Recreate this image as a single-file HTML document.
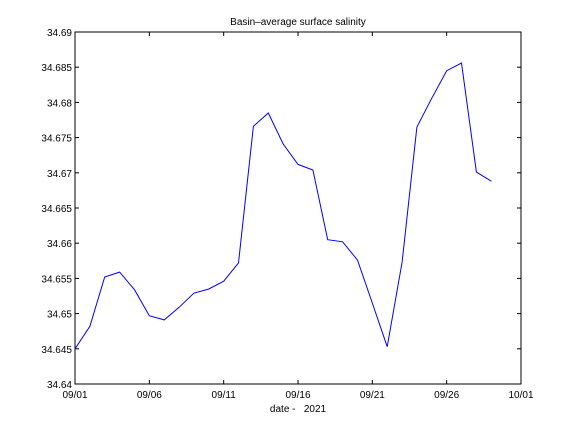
<!DOCTYPE html>
<html><head><meta charset="utf-8"><style>
body{margin:0;background:#fff;}
svg{display:block;font-family:"Liberation Sans",sans-serif;}
</style></head><body>
<svg id="chart" width="576" height="432" viewBox="0 0 576 432">
<rect x="0" y="0" width="576" height="432" fill="#fff"/>
<text x="298" y="25" font-size="10" text-anchor="middle">Basin–average surface salinity</text>
<rect x="75" y="32" width="446" height="352" fill="none" stroke="#000" stroke-width="1"/>
<g id="axes"></g>
<text x="298" y="412" font-size="10" text-anchor="middle" xml:space="preserve">date -   2021</text>
</svg>
<script>
const days=[0,1,2,3,4,5,6,7,8,9,10,11,12,13,14,15,16,17,18,19,20,21,22,23,24,25,26,27,28];
const salinity=[34.645,34.6482,34.6552,34.6559,34.6534,34.6497,34.6491,34.6509,34.6529,34.6535,34.6546,34.6572,34.6766,34.6785,34.6741,34.6712,34.6704,34.6605,34.6602,34.6576,34.6515,34.6453,34.6573,34.6765,34.6806,34.6845,34.6856,34.6701,34.6688];
const xTickVals=[0,5,10,15,20,25,30];
const xTickLabels=["09/01","09/06","09/11","09/16","09/21","09/26","10/01"];
const yTickVals=[34.64,34.645,34.65,34.655,34.66,34.665,34.67,34.675,34.68,34.685,34.69];
const yTickLabels=["34.64","34.645","34.65","34.655","34.66","34.665","34.67","34.675","34.68","34.685","34.69"];
const L=75,R=521,T=32,B=384,xmin=0,xmax=30,ymin=34.64,ymax=34.69;
const NS="http://www.w3.org/2000/svg";
const sx=v=>L+(v-xmin)/(xmax-xmin)*(R-L);
const sy=v=>B-(v-ymin)/(ymax-ymin)*(B-T);
const g=document.getElementById('axes');
function mk(t,a){const e=document.createElementNS(NS,t);for(const k in a)e.setAttribute(k,a[k]);g.appendChild(e);return e;}
xTickVals.forEach((v,i)=>{
 const x=sx(v);
 const t1=mk('line',{x1:x,x2:x,y1:B,y2:B-4,stroke:'#000'});
 
 
 const t2=mk('line',{x1:x,x2:x,y1:T,y2:T+4,stroke:'#000'});
 
 
 const tx=mk('text',{x:x,y:B+14,'font-size':10,'text-anchor':'middle'});
 tx.textContent=xTickLabels[i];
 
 
});
yTickVals.forEach((v,i)=>{
 const y=sy(v);
 const t1=mk('line',{x1:L,x2:L+4,y1:y,y2:y,stroke:'#000'});
 
 
 const t2=mk('line',{x1:R,x2:R-4,y1:y,y2:y,stroke:'#000'});
 
 
 const tx=mk('text',{x:L-3,y:y+4,'font-size':10,'text-anchor':'end'});
 tx.textContent=yTickLabels[i];
 
 
});
const pts=days.map((d,i)=>sx(d).toFixed(1)+','+sy(salinity[i]).toFixed(1)).join(' ');
const line=mk('polyline',{points:pts,fill:'none',stroke:'#0000ff','stroke-width':1});


</script>
</body></html>
